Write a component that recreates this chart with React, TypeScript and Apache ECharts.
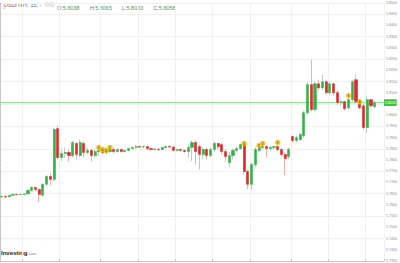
import React, { useEffect, useRef } from "react";
import * as echarts from "echarts";

// [open, close, low, high] — USD/TRY 15 min candles
const candles: [number, number, number, number][] = [
  [5.7636, 5.7638, 5.7632, 5.7641],
  [5.7638, 5.7636, 5.7629, 5.7641],
  [5.7636, 5.7643, 5.7634, 5.7645],
  [5.7643, 5.7647, 5.7641, 5.7649],
  [5.7647, 5.7646, 5.7643, 5.7649],
  [5.7646, 5.7647, 5.7643, 5.7649],
  [5.7647, 5.7649, 5.7645, 5.7652],
  [5.7649, 5.7665, 5.7647, 5.7667],
  [5.7665, 5.7678, 5.7661, 5.7683],
  [5.7678, 5.7669, 5.7661, 5.768],
  [5.7669, 5.7647, 5.7612, 5.7674],
  [5.7643, 5.7692, 5.7638, 5.7696],
  [5.7692, 5.7727, 5.7687, 5.7732],
  [5.7727, 5.7714, 5.7687, 5.774],
  [5.7714, 5.7936, 5.7705, 5.7945],
  [5.794, 5.7811, 5.7803, 5.7954],
  [5.7811, 5.7829, 5.7794, 5.7847],
  [5.7829, 5.7834, 5.7811, 5.7856],
  [5.7834, 5.782, 5.7794, 5.7847],
  [5.782, 5.7878, 5.7811, 5.7887],
  [5.7874, 5.7825, 5.7803, 5.7878],
  [5.782, 5.7878, 5.7811, 5.7891],
  [5.7874, 5.7834, 5.7811, 5.7883],
  [5.7834, 5.7843, 5.7825, 5.7856],
  [5.7843, 5.782, 5.7794, 5.7851],
  [5.782, 5.7838, 5.7811, 5.7847],
  [5.7838, 5.7843, 5.782, 5.7856],
  [5.7843, 5.7834, 5.7825, 5.7851],
  [5.7834, 5.7838, 5.7825, 5.7847],
  [5.7838, 5.7847, 5.7829, 5.7856],
  [5.7847, 5.7838, 5.7829, 5.7856],
  [5.7838, 5.7847, 5.7834, 5.7851],
  [5.7847, 5.7838, 5.7834, 5.7851],
  [5.7838, 5.7843, 5.7834, 5.7847],
  [5.7843, 5.7851, 5.7838, 5.7856],
  [5.7851, 5.7856, 5.7847, 5.786],
  [5.7856, 5.786, 5.7851, 5.7865],
  [5.786, 5.7858, 5.7854, 5.7865],
  [5.7858, 5.786, 5.7854, 5.7865],
  [5.786, 5.7851, 5.7847, 5.7865],
  [5.7851, 5.7847, 5.7843, 5.7856],
  [5.7847, 5.7849, 5.7843, 5.7854],
  [5.7849, 5.7847, 5.784, 5.7851],
  [5.7847, 5.7856, 5.7843, 5.786],
  [5.7856, 5.786, 5.7851, 5.7865],
  [5.786, 5.7858, 5.7854, 5.7865],
  [5.7858, 5.7843, 5.7838, 5.786],
  [5.7843, 5.7847, 5.7838, 5.7851],
  [5.7847, 5.7843, 5.7838, 5.7851],
  [5.7843, 5.7838, 5.7834, 5.7847],
  [5.7838, 5.7856, 5.7811, 5.7869],
  [5.7856, 5.7878, 5.7794, 5.7887],
  [5.7878, 5.7838, 5.778, 5.7887],
  [5.786, 5.7825, 5.7758, 5.7869],
  [5.7825, 5.7847, 5.7803, 5.7856],
  [5.7847, 5.782, 5.7803, 5.7856],
  [5.782, 5.7847, 5.7811, 5.786],
  [5.7847, 5.7874, 5.7838, 5.7883],
  [5.7874, 5.786, 5.7847, 5.7878],
  [5.7869, 5.7838, 5.7825, 5.7878],
  [5.7838, 5.7816, 5.7794, 5.7847],
  [5.7789, 5.782, 5.7767, 5.7834],
  [5.782, 5.7843, 5.7803, 5.7851],
  [5.7843, 5.7851, 5.7834, 5.786],
  [5.7851, 5.7869, 5.7847, 5.7874],
  [5.7869, 5.7749, 5.7736, 5.7878],
  [5.7749, 5.7692, 5.7669, 5.7758],
  [5.7692, 5.778, 5.7669, 5.7789],
  [5.778, 5.7847, 5.7767, 5.7856],
  [5.7843, 5.7856, 5.7834, 5.7865],
  [5.7856, 5.786, 5.7847, 5.7869],
  [5.786, 5.7851, 5.7811, 5.7865],
  [5.7851, 5.7856, 5.7838, 5.7865],
  [5.7856, 5.786, 5.7847, 5.7865],
  [5.786, 5.7847, 5.7838, 5.7865],
  [5.7847, 5.7825, 5.7816, 5.7851],
  [5.7825, 5.7807, 5.7732, 5.7834],
  [5.7816, 5.7847, 5.7803, 5.7856],
  [5.7905, 5.7887, 5.7878, 5.7909],
  [5.7887, 5.79, 5.7878, 5.7909],
  [5.7891, 5.7914, 5.7887, 5.7922],
  [5.7909, 5.8011, 5.79, 5.802],
  [5.8011, 5.8136, 5.8002, 5.8149],
  [5.8136, 5.8025, 5.8016, 5.8247],
  [5.8025, 5.814, 5.8016, 5.8149],
  [5.814, 5.8122, 5.8113, 5.8158],
  [5.8122, 5.8149, 5.8113, 5.818],
  [5.8149, 5.81, 5.8091, 5.8158],
  [5.81, 5.814, 5.8091, 5.8149],
  [5.814, 5.81, 5.8087, 5.8144],
  [5.81, 5.8056, 5.8047, 5.8113],
  [5.8056, 5.806, 5.8042, 5.8069],
  [5.806, 5.8029, 5.802, 5.8065],
  [5.8033, 5.8069, 5.8025, 5.8078],
  [5.8069, 5.8149, 5.806, 5.8158],
  [5.8158, 5.806, 5.8051, 5.818],
  [5.806, 5.8033, 5.8025, 5.8069],
  [5.8042, 5.7945, 5.7936, 5.8051],
  [5.7945, 5.8069, 5.7922, 5.8082],
  [5.8069, 5.8042, 5.8033, 5.8073],
  [5.8038, 5.8056, 5.8033, 5.8065],
];

// economic-event markers: [candle index, price]
const eventMarks: [number, number][] = [
  [26, 5.7856],
  [27, 5.7847],
  [28, 5.7843],
  [29, 5.7856],
  [65, 5.7874],
  [69, 5.7865],
  [70, 5.7874],
  [74, 5.7878],
  [93, 5.8087],
  [96, 5.806],
];

const emptySlots = 2;
const yMin = 5.735;
const yMax = 5.85;
const yLabelStep = 0.005;
const yGridStep = 0.01;
const xGridIndices = [6, 16, 27, 37, 47, 57, 67, 78, 88, 98];
const symbolName = "USD/TRY, 15, -";

const UP = "#35b24a";
const DOWN = "#dd2b2b";
const UP_WICK = "#b8d4c0";
const DOWN_WICK = "#f0b0b0";

export default function App() {
  const ref = useRef<HTMLDivElement>(null);
  useEffect(() => {
    if (!ref.current) return;
    const chart = echarts.init(ref.current, null, { renderer: "svg" });
    const categories = Array.from(
      { length: candles.length + emptySlots },
      (_, i) => `c${i}`
    );
    const bodies = candles.map(([o, c]) => [o, c, Math.min(o, c), Math.max(o, c)]);
    const last = candles[candles.length - 1];
    const f4 = (v: number) => v.toFixed(4);
    const gridSet = new Set(xGridIndices);
    const font = "'Liberation Sans', Arial, sans-serif";

    chart.setOption({
      animation: false,
      backgroundColor: "#ffffff",
      textStyle: { fontFamily: font },
      grid: { left: 0, right: 14, top: 3, bottom: 1, containLabel: false },
      xAxis: [
        {
          type: "category",
          data: categories,
          boundaryGap: true,
          axisLine: { show: true, lineStyle: { color: "#c8c8c8", width: 1 } },
          axisTick: {
            show: true,
            interval: (i: number) => gridSet.has(i),
            length: 2,
            inside: true,
            lineStyle: { color: "#c8c8c8" },
          },
          axisLabel: { show: false },
          splitLine: {
            show: true,
            interval: (i: number) => gridSet.has(i),
            lineStyle: { color: "#f1f1f1", width: 1 },
          },
        },
        {
          type: "value",
          min: 0,
          max: 1,
          show: false,
        },
      ],
      yAxis: [
        {
          type: "value",
          position: "right",
          min: yMin,
          max: yMax,
          interval: yLabelStep,
          axisLine: { show: true, lineStyle: { color: "#c8c8c8", width: 1 } },
          axisTick: { show: true, length: 1.5, lineStyle: { color: "#c8c8c8" } },
          axisLabel: {
            show: true,
            fontSize: 3.6,
            color: "#8a8a8a",
            margin: 2,
            formatter: (v: number) => f4(v),
          },
          splitLine: { show: false },
        },
        {
          type: "value",
          position: "right",
          min: yMin,
          max: yMax,
          interval: yGridStep,
          axisLine: { show: false },
          axisTick: { show: false },
          axisLabel: { show: false },
          splitLine: { show: true, lineStyle: { color: "#f1f1f1", width: 1 } },
        },
      ],
      series: [
        {
          type: "line",
          name: "price",
          xAxisIndex: 1,
          yAxisIndex: 0,
          data: [
            [0, last[1]],
            [1, last[1]],
          ],
          symbol: "none",
          silent: true,
          lineStyle: { color: "#8de08d", width: 1 },
          endLabel: {
            show: true,
            distance: 0,
            formatter: () => f4(last[1]),
            backgroundColor: "#3cc43c",
            color: "#ffffff",
            fontSize: 3.6,
            padding: [1.6, 0.8, 1.2, 0.8],
          },
          z: 1,
        },
        {
          type: "candlestick",
          name: "wicks",
          data: candles,
          barWidth: 1,
          silent: true,
          itemStyle: {
            color: UP_WICK,
            color0: DOWN_WICK,
            borderColor: UP_WICK,
            borderColor0: DOWN_WICK,
            borderWidth: 1,
          },
        },
        {
          type: "candlestick",
          name: "bodies",
          data: bodies,
          barWidth: 2.6,
          silent: true,
          itemStyle: {
            color: UP,
            color0: DOWN,
            borderColor: UP,
            borderColor0: DOWN,
            borderWidth: 0.6,
          },
        },
        {
          type: "scatter",
          name: "events",
          data: eventMarks,
          symbol: "circle",
          symbolSize: 5,
          silent: true,
          itemStyle: { color: "#f8c90c", borderColor: "#e3a300", borderWidth: 0.5 },
          label: {
            show: true,
            position: "inside",
            formatter: "E",
            fontSize: 3,
            color: "#7a5200",
            fontWeight: "bold",
          },
          z: 5,
        },
      ],
      graphic: [
        {
          type: "rect",
          left: 0.5,
          top: 3,
          shape: { width: 2, height: 3 },
          style: { fill: "none", stroke: "#bbbbbb", lineWidth: 0.5 },
        },
        {
          type: "text",
          left: 4,
          top: 1.5,
          style: { text: symbolName, fontSize: 5.5, fill: "#666666", fontFamily: font },
        },
        {
          type: "rect",
          left: 45,
          top: 2.5,
          shape: { width: 3.5, height: 3.5 },
          style: { fill: "#eeeeee", stroke: "#c4c4c4", lineWidth: 0.5 },
        },
        {
          type: "rect",
          left: 50,
          top: 2.5,
          shape: { width: 3.5, height: 3.5 },
          style: { fill: "#eeeeee", stroke: "#c4c4c4", lineWidth: 0.5 },
        },
        {
          type: "text",
          left: 57,
          top: 1.5,
          style: {
            text: `{k|O:}{v|${f4(last[0])}}   {k|H:}{v|${f4(last[3])}}   {k|L:}{v|${f4(last[2])}}   {k|C:}{v|${f4(last[1])}}`,
            rich: {
              k: { fontSize: 5.5, fill: "#777777", fontFamily: font },
              v: { fontSize: 5.5, fill: "#4f9a55", fontFamily: font },
            },
          },
        },
        {
          type: "text",
          left: 1,
          top: 250,
          style: {
            text: "{a|Investing}{b|.com}",
            rich: {
              a: { fontSize: 6, fontWeight: "bold", fill: "#1b1b1b", fontFamily: font },
              b: { fontSize: 4, fill: "#8a8a8a", fontFamily: font, padding: [1.5, 0, 0, 0] },
            },
          },
        },
      ],
    });
    return () => chart.dispose();
  }, []);
  return (
    <div
      ref={ref}
      style={{ position: "fixed", left: 0, top: 0, width: 400, height: 263 }}
    />
  );
}
